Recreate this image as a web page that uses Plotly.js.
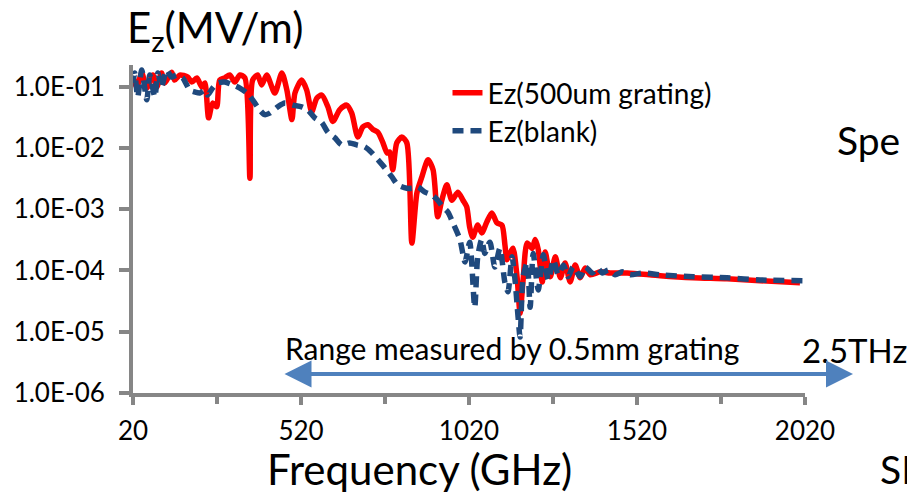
<!DOCTYPE html>
<html><head><meta charset="utf-8">
<script src="https://cdn.plot.ly/plotly-3.0.1.min.js"></script>
<style>html,body{margin:0;padding:0;background:#fff;overflow:hidden}#chart{width:907px;height:495px}</style>
</head><body><div id="chart"></div>
<script>
// Frequency (GHz) and Ez (MV/m)
const freqGrating = [20,31,46,61,79,91,105,114,135,144,159,183,195,210,225,234,245,257,269,278,293,308,323,338,353,368,376,391,403,418,442,463,478,493,502,522,537,552,567,582,600,615,635,656,671,689,704,719,734,749,764,776,784,793,805,820,835,850,865,880,898,913,927,939,954,969,987,1002,1013,1022,1031,1046,1058,1073,1088,1103,1118,1127,1133,1142,1151,1163,1172,1181,1193,1208,1217,1226,1238,1247,1262,1277,1292,1306,1321,1336,1351,1366,1381,1411,1440,1491,1589,1687,1788,1886,2005];
const ezGrating = [0.144,0.099,0.167,0.095,0.155,0.099,0.167,0.115,0.172,0.128,0.155,0.144,0.119,0.139,0.099,0.115,0.031,0.054,0.047,0.128,0.139,0.155,0.119,0.155,0.139,0.0032,0.128,0.155,0.107,0.155,0.079,0.167,0.088,0.029,0.079,0.128,0.088,0.039,0.065,0.073,0.047,0.027,0.042,0.050,0.037,0.0151,0.022,0.024,0.020,0.018,0.0121,0.0083,0.0086,0.0044,0.0121,0.0151,0.0121,0.00028,0.00185,0.0034,0.0064,0.0044,0.00075,0.0014,0.0025,0.0014,0.0019,0.0014,0.0011,0.00051,0.00035,0.00055,0.00041,0.00062,0.00087,0.00060,0.00055,0.00026,0.000149,0.00019,0.00023,0.000079,0.000020,0.00007,0.00028,0.00023,0.00032,0.00022,0.000065,0.0002,0.000079,0.000167,0.000076,0.000133,0.000065,0.000123,0.000076,0.00011,0.000085,0.000095,0.000091,0.000091,0.000082,0.000076,0.000073,0.000068,0.000063];
const freqBlank = [20,25,34,46,61,70,85,94,105,120,135,150,168,189,204,219,234,242,257,272,293,317,338,359,376,397,412,427,451,472,496,522,540,561,582,600,621,641,665,686,710,731,749,770,790,808,835,850,868,889,910,927,942,957,972,993,1008,1022,1037,1046,1058,1067,1082,1097,1112,1127,1136,1148,1157,1166,1172,1181,1193,1202,1211,1226,1241,1256,1271,1286,1301,1315,1330,1351,1366,1387,1402,1417,1435,1455,1476,1500,1538,1589,1687,1788,1886,2020];
const ezBlank = [0.115,0.167,0.068,0.187,0.061,0.155,0.068,0.167,0.099,0.187,0.144,0.155,0.139,0.088,0.082,0.079,0.088,0.073,0.095,0.115,0.119,0.107,0.095,0.079,0.061,0.042,0.035,0.037,0.047,0.054,0.050,0.047,0.042,0.031,0.026,0.018,0.0146,0.0112,0.0121,0.0112,0.0104,0.0083,0.0064,0.0047,0.0034,0.0025,0.0022,0.0022,0.0023,0.0019,0.0017,0.0014,0.00109,0.0009,0.0006,0.00032,0.000138,0.00029,0.000025,0.000167,0.00032,0.00019,0.00029,0.000114,0.00023,0.000063,0.000045,0.000167,0.00007,0.0000175,0.0000082,0.000079,0.000133,0.000025,0.00019,0.000048,0.00018,0.00007,0.000149,0.000085,0.000123,0.000079,0.000114,0.000079,0.000114,0.000091,0.00011,0.000091,0.000102,0.000085,0.000095,0.000085,0.000091,0.000085,0.000079,0.000076,0.00007,0.000068];
const seriesNames = ['Ez(500um grating)', 'Ez(blank)'];
const yTickVals = [1e-6,1e-5,1e-4,1e-3,1e-2,1e-1];
const yTickText = ['1.0E-06','1.0E-05','1.0E-04','1.0E-03','1.0E-02','1.0E-01'];
const xTickVals = [20,520,1020,1520,2020];
const xTickText = ['20','520','1020','1520','2020'];
const xMinorTicks = [270,770,1270,1770];

const FONT = 'Lato, "Open Sans", sans-serif';
const AXC = '#868686';

const traces = [
  {x: freqGrating, y: ezGrating, name: seriesNames[0], type: 'scatter', mode: 'lines',
   line: {color: '#FF0000', width: 5.5, shape: 'spline', smoothing: 0.7}, legend: 'legend'},
  {x: freqBlank, y: ezBlank, name: seriesNames[1], type: 'scatter', mode: 'lines',
   line: {color: '#1F497D', width: 5.5, dash: '11px,7px', shape: 'spline', smoothing: 0.7}, legend: 'legend2'}
];

const legendBase = {x: 0.468, xanchor: 'left', yanchor: 'middle', bgcolor: 'rgba(0,0,0,0)', borderwidth: 0,
  font: {family: FONT, size: 28, color: '#000'}};

const layout = {
  width: 907, height: 495,
  margin: {l: 133, r: 102, t: 65, b: 102, pad: 0},
  paper_bgcolor: '#fff', plot_bgcolor: '#fff',
  font: {family: FONT, color: '#000'},
  showlegend: true,
  legend: Object.assign({}, legendBase, {y: 0.9146}),
  legend2: Object.assign({}, legendBase, {y: 0.7988}),
  xaxis: {
    range: [20, 2020], showgrid: false, zeroline: false,
    showline: true, linecolor: AXC, linewidth: 4,
    ticks: 'outside', ticklen: 8, tickwidth: 4, tickcolor: AXC,
    tickmode: 'array', tickvals: xTickVals, ticktext: xTickText,
    minor: {tickmode: 'array', tickvals: xMinorTicks, ticks: 'outside', ticklen: 7, tickwidth: 4, tickcolor: AXC, showgrid: false},
    tickfont: {family: FONT, size: 26, color: '#000'}, ticklabelstandoff: 4
  },
  yaxis: {
    type: 'log', range: [-6, -0.646], showgrid: false, zeroline: false,
    showline: true, linecolor: AXC, linewidth: 4,
    ticks: 'outside', ticklen: 10, tickwidth: 4, tickcolor: AXC,
    tickmode: 'array', tickvals: yTickVals, ticktext: yTickText,
    tickfont: {family: FONT, size: 26, color: '#000'}, ticklabelstandoff: 9
  },
  annotations: [
    {text: 'E<sub>z</sub>(MV/m)', xref: 'paper', yref: 'paper', x: -0.0119, y: 1.1067,
     xanchor: 'left', yanchor: 'middle', showarrow: false, font: {family: FONT, size: 42, color: '#000'}},
    {text: 'Frequency (GHz)', xref: 'paper', yref: 'paper', x: 0.427, y: -0.232,
     xanchor: 'center', yanchor: 'middle', showarrow: false, font: {family: FONT, size: 42, color: '#000'}},
    {text: 'Range measured by 0.5mm grating', xref: 'paper', yref: 'paper', x: 0.564, y: 0.137,
     xanchor: 'center', yanchor: 'middle', showarrow: false, font: {family: FONT, size: 30, color: '#000'}},
    {text: '2.5THz', xref: 'paper', yref: 'paper', x: 0.9926, y: 0.131,
     xanchor: 'left', yanchor: 'middle', showarrow: false, font: {family: FONT, size: 33, color: '#000'}},
    {text: 'Spe', xref: 'paper', yref: 'paper', x: 1.0446, y: 0.7713,
     xanchor: 'left', yanchor: 'middle', showarrow: false, font: {family: FONT, size: 39, color: '#000'}},
    {text: 'SP', xref: 'paper', yref: 'paper', x: 1.1086, y: -0.232,
     xanchor: 'left', yanchor: 'middle', showarrow: false, font: {family: FONT, size: 39, color: '#000'}},
    {text: '', xref: 'paper', yref: 'paper', x: 1.0714, y: 0.058,
     axref: 'paper', ayref: 'paper', ax: 0.2232, ay: 0.058,
     showarrow: true, arrowhead: 2, startarrowhead: 2, arrowside: 'end+start',
     arrowwidth: 4, arrowsize: 1.35, startarrowsize: 1.35, arrowcolor: '#4F81BD', standoff: 0, startstandoff: 0}
  ]
};

Plotly.newPlot('chart', traces, layout, {staticPlot: true, displayModeBar: false});
</script>
</body></html>
